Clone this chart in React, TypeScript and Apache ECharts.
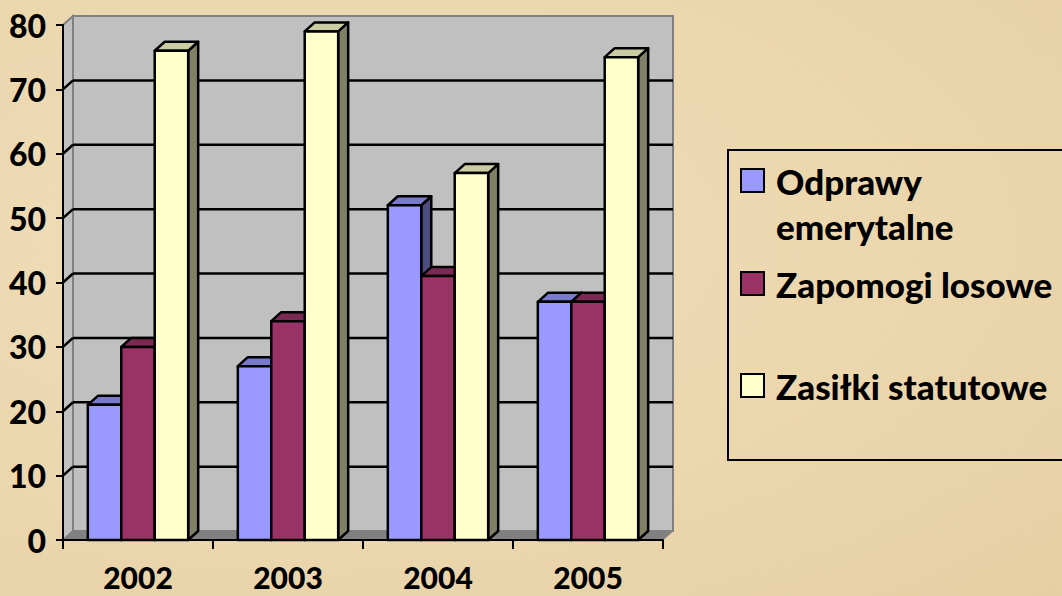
import React, { useEffect, useRef } from "react";
import * as echarts from "echarts";

const categories = ["2002", "2003", "2004", "2005"];
const seriesNames = ["Odprawy emerytalne", "Zapomogi losowe", "Zasiłki statutowe"];
const legendLabels = ["Odprawy\nemerytalne", "Zapomogi losowe", "Zasiłki statutowe"];
const odprawy = [21, 27, 52, 37];
const zapomogi = [30, 34, 41, 37];
const zasilki = [76, 79, 57, 75];
const seriesValues = [odprawy, zapomogi, zasilki];
const frontColors = ["#9999FF", "#993366", "#FFFFCC"];
const topColors = ["#7A7ACC", "#7A2952", "#CCCCA3"];
const sideColors = ["#4D4D80", "#4D1A33", "#808066"];
const Y_MIN = 0;
const Y_MAX = 80;
const Y_STEP = 10;

const DX = 10;
const DY = 9;
const FONT = "Lato, 'Open Sans', sans-serif";

export default function App() {
  const ref = useRef<HTMLDivElement>(null);
  useEffect(() => {
    document.body.style.margin = "0";
    const chart = echarts.init(ref.current!, undefined, { renderer: "svg" });

    const frameRender = (params: any, api: any) => {
      const cs = params.coordSys;
      const x = cs.x, y = cs.y, w = cs.width, h = cs.height;
      const children: any[] = [];
      children.push({
        type: "rect",
        shape: { x: x + DX, y: y - DY, width: w, height: h },
        style: { fill: "#C0C0C0", stroke: "#808080", lineWidth: 2 },
      });
      children.push({
        type: "polygon",
        shape: { points: [[x, y], [x + DX, y - DY], [x + DX, y + h - DY], [x, y + h]] },
        style: { fill: "#C0C0C0", stroke: "#808080", lineWidth: 2 },
      });
      children.push({
        type: "polygon",
        shape: { points: [[x, y + h], [x + DX, y + h - DY], [x + w + DX, y + h - DY], [x + w, y + h]] },
        style: { fill: "#808080", stroke: "#808080", lineWidth: 1 },
      });
      for (let v = Y_MIN + Y_STEP; v < Y_MAX; v += Y_STEP) {
        const yy = api.coord([0, v])[1];
        children.push({
          type: "line",
          shape: { x1: x + DX, y1: yy - DY, x2: x + w + DX, y2: yy - DY },
          style: { stroke: "#000", lineWidth: 2.5 },
        });
        children.push({
          type: "line",
          shape: { x1: x, y1: yy, x2: x + DX, y2: yy - DY },
          style: { stroke: "#000", lineWidth: 2.5 },
        });
      }
      return { type: "group", children };
    };

    const makeBarRender = (k: number) => (params: any, api: any) => {
      const idx = api.value(0);
      const val = api.value(1);
      const top = api.coord([idx, val]);
      const base = api.coord([idx, 0]);
      const band = api.size([1, 0])[0];
      const bw = band * 0.223;
      const x0 = top[0] - 1.5 * bw + k * bw;
      const yT = top[1];
      const yB = base[1];
      const st = { stroke: "#000", lineWidth: 2.5, lineJoin: "round" };
      return {
        type: "group",
        children: [
          {
            type: "polygon",
            shape: { points: [[x0 + bw, yT], [x0 + bw + DX, yT - DY], [x0 + bw + DX, yB - DY], [x0 + bw, yB]] },
            style: { fill: sideColors[k], ...st },
          },
          {
            type: "polygon",
            shape: { points: [[x0, yT], [x0 + DX, yT - DY], [x0 + bw + DX, yT - DY], [x0 + bw, yT]] },
            style: { fill: topColors[k], ...st },
          },
          {
            type: "rect",
            shape: { x: x0, y: yT, width: bw, height: yB - yT },
            style: { fill: frontColors[k], ...st },
          },
        ],
      };
    };

    const legendItems: any[] = [];
    const legendY = [158, 284, 386];
    legendLabels.forEach((lab, k) => {
      const sqY = k === 0 ? 169 : legendY[k] - 12;
      legendItems.push({
        type: "rect",
        shape: { x: 741, y: sqY, width: 23, height: 23 },
        style: { fill: frontColors[k], stroke: "#000", lineWidth: 2 },
      });
      legendItems.push({
        type: "text",
        x: 776,
        y: legendY[k],
        style: {
          text: lab,
          font: `900 35px ${FONT}`,
          fill: "#000",
          textAlign: "left",
          textVerticalAlign: k === 0 ? "top" : "middle",
          lineHeight: 45,
        },
      });
    });

    chart.setOption({
      animation: false,
      backgroundColor: "transparent",
      legend: { show: false, data: seriesNames },
      grid: { left: 63, right: 399, top: 25, bottom: 56, containLabel: false },
      xAxis: {
        type: "category",
        data: categories,
        boundaryGap: true,
        axisLine: { show: true, lineStyle: { color: "#000", width: 2 } },
        axisTick: { show: true, length: 9, lineStyle: { color: "#000", width: 2 } },
        axisLabel: {
          color: "#000",
          fontSize: 30,
          fontWeight: 900,
          fontFamily: FONT,
          margin: 25,
          lineHeight: 24,
        },
        splitLine: { show: false },
        z: 10,
      },
      yAxis: {
        type: "value",
        min: Y_MIN,
        max: Y_MAX,
        interval: Y_STEP,
        axisLine: { show: true, lineStyle: { color: "#000", width: 2 } },
        axisTick: { show: true, length: 7, lineStyle: { color: "#000", width: 2 } },
        axisLabel: { color: "#000", fontSize: 32, fontWeight: 900, fontFamily: FONT, margin: 17 },
        splitLine: { show: false },
        z: 10,
      },
      graphic: [
        {
          type: "rect",
          shape: { x: 728, y: 150, width: 400, height: 310 },
          style: { fill: "transparent", stroke: "#000", lineWidth: 2 },
        },
        ...legendItems,
      ],
      series: [
        {
          type: "custom",
          name: "frame",
          renderItem: frameRender,
          data: [[0, 0]],
          encode: { x: 0, y: 1 },
          z: 1,
          silent: true,
        },
        ...seriesValues.map((vals, k) => ({
          type: "custom",
          name: seriesNames[k],
          renderItem: makeBarRender(k),
          data: vals.map((v, i) => [i, v]),
          encode: { x: 0, y: 1 },
          itemStyle: { color: frontColors[k] },
          z: 2,
        })),
      ],
    });
    return () => chart.dispose();
  }, []);

  return (
    <div
      style={{
        position: "absolute",
        left: 0,
        top: 0,
        width: 1062,
        height: 596,
        background: "radial-gradient(ellipse at 30% 40%, #F0DDB8 0%, #EBD6AD 60%, #E6CFA3 100%)",
      }}
    >
      <div ref={ref} style={{ width: 1062, height: 596 }} />
    </div>
  );
}
